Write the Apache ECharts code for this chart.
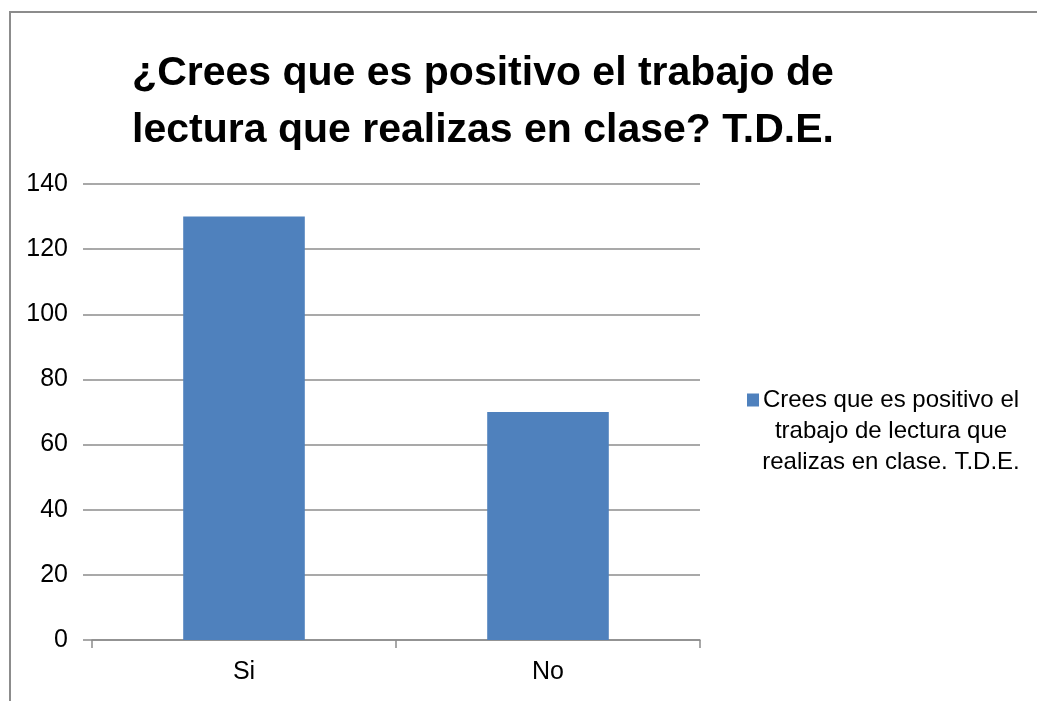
<!DOCTYPE html>
<html>
<head>
<meta charset="utf-8">
<script src="https://cdn.jsdelivr.net/npm/echarts@6/dist/echarts.min.js"></script>
<style>
html,body{margin:0;padding:0;background:#fff;}
#chart{width:1037px;height:701px;}
</style>
</head>
<body>
<div id="chart"></div>
<script>
const titleLines = ['¿Crees que es positivo el trabajo de', 'lectura que realizas en clase? T.D.E.'];
const categories = ['Si', 'No'];
const seriesName = 'Crees que es positivo el trabajo de lectura que realizas en clase. T.D.E.';
const legendLines = ['Crees que es positivo el', 'trabajo de lectura que', 'realizas en clase. T.D.E.'];
const values = [130, 70];
const yTicks = {min: 0, max: 140, interval: 20};

const FONT = "'Liberation Sans', Arial, sans-serif";
const chart = echarts.init(document.getElementById('chart'), null, {renderer: 'canvas'});
chart.setOption({
  animation: false,
  backgroundColor: '#fff',
  title: {
    text: titleLines.join('\n'),
    left: 478,
    top: 40,
    textAlign: 'center',
    textStyle: {fontFamily: FONT, fontWeight: 'bold', fontSize: 41, lineHeight: 57, color: '#000'}
  },
  graphic: [{
    type: 'rect',
    shape: {x: 10, y: 12, width: 1100, height: 800},
    style: {fill: 'none', stroke: '#8c8c8c', lineWidth: 2},
    silent: true
  }],
  legend: {
    left: 742,
    top: 321,
    orient: 'vertical',
    itemWidth: 12,
    itemHeight: 13,
    icon: 'rect',
    data: [seriesName],
    formatter: function () {
      return '{a|\u00a0}\n{a|\u00a0}\n' + legendLines.map(l => '{a|' + l + '}').join('\n');
    },
    textStyle: {
      fontFamily: FONT, fontSize: 24, color: '#000',
      rich: {a: {fontFamily: FONT, fontSize: 24, color: '#000', lineHeight: 31, width: 254, align: 'center'}}
    }
  },
  grid: {left: 92, right: 337, top: 184, bottom: 61, containLabel: false},
  xAxis: {
    type: 'category',
    data: categories,
    axisLine: {show: true, lineStyle: {color: '#8c8c8c', width: 1.5}},
    axisTick: {show: true, alignWithLabel: false, length: 8, lineStyle: {color: '#8c8c8c', width: 1.5}},
    axisLabel: {fontFamily: FONT, fontSize: 25, color: '#000', margin: 20}
  },
  yAxis: {
    type: 'value',
    min: yTicks.min, max: yTicks.max, interval: yTicks.interval,
    axisLine: {show: false},
    axisTick: {show: true, length: 9, lineStyle: {color: '#8c8c8c', width: 1.5}},
    splitLine: {show: true, lineStyle: {color: '#8c8c8c', width: 1.5}},
    axisLabel: {fontFamily: FONT, fontSize: 25, color: '#000', margin: 24}
  },
  series: [{
    name: seriesName,
    type: 'bar',
    data: values,
    barWidth: '40%',
    itemStyle: {color: '#4F81BD'}
  }]
});
</script>
</body>
</html>
